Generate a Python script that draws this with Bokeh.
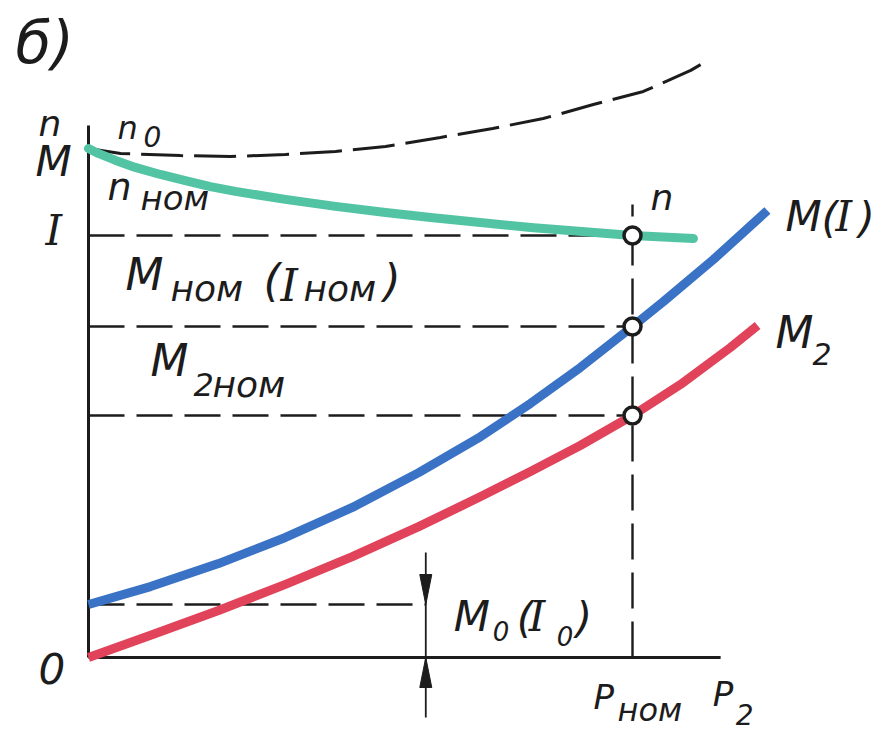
from bokeh.plotting import figure
from bokeh.models import Range1d
from bokeh.core.properties import value
from bokeh.embed import file_html
from bokeh.resources import INLINE

# Operating characteristics of a DC motor vs. output power P2 (per-unit, P_nom = 1)
P_NOM = 1.0

# electromagnetic torque M (and armature current I)
p2_m = [0.0, 0.114, 0.239, 0.362, 0.485, 0.607, 0.721, 0.8125, 0.904, 1.0, 1.057, 1.149, 1.248]
m_em = [0.219, 0.293, 0.388, 0.496, 0.620, 0.764, 0.913, 1.050, 1.198, 1.368, 1.471, 1.645, 1.847]

# shaft torque M2
p2_m2 = [0.0, 0.118, 0.239, 0.362, 0.485, 0.607, 0.721, 0.8125, 0.904, 1.0, 1.088, 1.180, 1.230]
m_shaft = [0.0, 0.095, 0.194, 0.302, 0.417, 0.541, 0.665, 0.769, 0.876, 1.0, 1.128, 1.281, 1.372]

# rotational speed n
p2_n = [0.0, 0.018, 0.050, 0.086, 0.132, 0.178, 0.224, 0.270, 0.362, 0.454, 0.546, 0.629, 0.813, 1.0, 1.112]
speed = [2.103, 2.083, 2.054, 2.025, 1.996, 1.971, 1.946, 1.926, 1.893, 1.864, 1.839, 1.818, 1.777, 1.744, 1.731]

# dashed upper curve
p2_d = [0.0, 0.059, 0.169, 0.261, 0.362, 0.454, 0.546, 0.647, 0.743, 0.836, 0.928, 1.020, 1.107, 1.138]
upper = [2.103, 2.083, 2.074, 2.070, 2.079, 2.091, 2.112, 2.149, 2.186, 2.227, 2.285, 2.339, 2.426, 2.467]

X_AXIS_END = 1.162
Y_AXIS_END = 2.198
DIM_X = 0.62  # position of the M0 dimension arrows

n0 = speed[0]
m0 = m_em[0]
n_nom = speed[p2_n.index(P_NOM)]
m_nom = m_em[p2_m.index(P_NOM)]
m2_nom = m_shaft[p2_m2.index(P_NOM)]

PX_X = 544.0  # pixels per unit on x
PX_Y = 242.0  # pixels per unit on y

BLACK = "#1c1c1c"
BLUE = "#3a72c6"
RED = "#e0435a"
TEAL = "#52c4a3"
SANS = value("DejaVu Sans")
SERIF = value("DejaVu Serif")

p = figure(width=878, height=734, output_backend="svg", toolbar_location=None,
           x_range=Range1d(-88 / PX_X, 790 / PX_X), y_range=Range1d(-77 / PX_Y, 657 / PX_Y),
           min_border=0, background_fill_color="white", border_fill_color="white")
p.axis.visible = False
p.grid.visible = False
p.outline_line_color = None

# axes
p.line([0, X_AXIS_END], [0, 0], line_color=BLACK, line_width=3)
p.line([0, 0], [0, Y_AXIS_END], line_color=BLACK, line_width=3)

# guide lines to the rated point
dash_kw = dict(line_color=BLACK, line_width=2.6, line_dash="36 12")
p.line([0, P_NOM], [n_nom, n_nom], **dash_kw)
p.line([0, P_NOM], [m_nom, m_nom], **dash_kw)
p.line([0, P_NOM], [m2_nom, m2_nom], **dash_kw)
p.line([0, DIM_X], [m0, m0], **dash_kw)
p.line([P_NOM, P_NOM], [0, n_nom + 31 / PX_Y], line_color=BLACK, line_width=2.4, line_dash="36 13")

# dashed upper curve
p.line(p2_d, upper, line_color=BLACK, line_width=3, line_dash="42 11")

# characteristics
p.line(p2_n, speed, line_color=TEAL, line_width=9, line_cap="round", line_join="round")
p.line(p2_m, m_em, line_color=BLUE, line_width=9, line_join="round")
p.line(p2_m2, m_shaft, line_color=RED, line_width=9, line_join="round")

# rated-point markers
p.scatter([P_NOM] * 3, [n_nom, m_nom, m2_nom], size=17, fill_color="white",
          line_color=BLACK, line_width=3.5)

# M0 dimension arrows
head_l = 30 / PX_Y
head_w = 6 / PX_X
p.line([DIM_X, DIM_X], [m0 + 52 / PX_Y, -60 / PX_Y], line_color=BLACK, line_width=1.8)
p.patch([DIM_X - head_w, DIM_X, DIM_X + head_w], [m0 + head_l, m0, m0 + head_l],
        fill_color=BLACK, line_color=BLACK, line_width=1)
p.patch([DIM_X - head_w, DIM_X, DIM_X + head_w], [-head_l, 0, -head_l],
        fill_color=BLACK, line_color=BLACK, line_width=1)


def txt(x, y, s, size, dx=0, dy=0, font=SANS):
    p.text([x], [y], text=[s], x_offset=dx, y_offset=dy, text_font=font,
           text_font_style="italic", text_font_size=f"{size}px", text_color=BLACK,
           text_align="left", text_baseline="alphabetic")


# panel tag
txt(0, Y_AXIS_END, "б)", 58, dx=-73, dy=-83)

# axis names
txt(0, n0, "n", 36, dx=-50, dy=-25)
txt(0, n0, "M", 42, dx=-53, dy=13)
txt(0, n_nom, "I", 42, dx=-43, dy=-5, font=SERIF)
txt(0, 0, "0", 42, dx=-50, dy=11)

# n0
txt(0, n0, "n", 32, dx=29, dy=-21)
txt(0, n0, "0", 28, dx=55, dy=-12)
# n_nom
txt(0, n_nom, "n", 38, dx=19, dy=-48)
txt(0, n_nom, "ном", 34, dx=52, dy=-37)
# M_nom (I_nom)
txt(0, m_nom, "M", 44, dx=37, dy=-52)
txt(0, m_nom, "ном", 36, dx=82, dy=-38)
txt(0, m_nom, "(", 44, dx=175, dy=-46)
txt(0, m_nom, "I", 44, dx=192, dy=-41, font=SERIF)
txt(0, m_nom, "ном", 36, dx=215, dy=-38)
txt(0, m_nom, ")", 44, dx=295, dy=-46)
# M2_nom
txt(0, m2_nom, "M", 44, dx=62, dy=-55)
txt(0, m2_nom, "2", 32, dx=105, dy=-31)
txt(0, m2_nom, "ном", 36, dx=124, dy=-31)

# curve names
txt(p2_m[-1], m_em[-1], "M", 42, dx=18, dy=6)
txt(p2_m[-1], m_em[-1], "(", 42, dx=54, dy=8)
txt(p2_m[-1], m_em[-1], "I", 42, dx=68, dy=6, font=SERIF)
txt(p2_m[-1], m_em[-1], ")", 42, dx=91, dy=8)
txt(p2_m2[-1], m_shaft[-1], "M", 44, dx=18, dy=7)
txt(p2_m2[-1], m_shaft[-1], "2", 30, dx=55, dy=29)
txt(P_NOM, n_nom, "n", 36, dx=18, dy=-38)

# M0 (I0)
txt(DIM_X, m0, "M", 42, dx=28, dy=12)
txt(DIM_X, m0, "0", 26, dx=67, dy=26)
txt(DIM_X, m0, "(", 42, dx=91, dy=14)
txt(DIM_X, m0, "I", 42, dx=103, dy=12, font=SERIF)
txt(DIM_X, m0, "0", 26, dx=131, dy=31)
txt(DIM_X, m0, ")", 42, dx=150, dy=14)

# x-axis names
txt(P_NOM, 0, "P", 34, dx=-39, dy=39)
txt(P_NOM, 0, "ном", 32, dx=-15, dy=52)
txt(X_AXIS_END, 0, "P", 34, dx=-8, dy=36)
txt(X_AXIS_END, 0, "2", 28, dx=15, dy=57)

open("out.html", "w").write(file_html(p, INLINE))
